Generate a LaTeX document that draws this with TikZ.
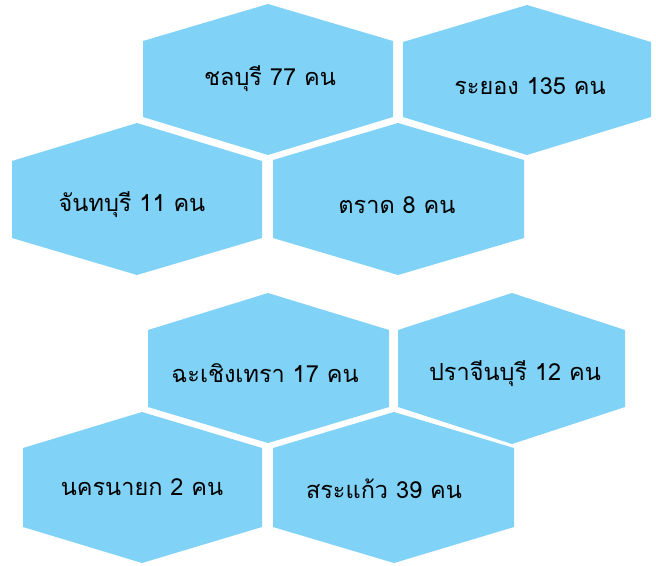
\documentclass[tikz,border=0pt]{standalone}
\usepackage{fontspec}
\newfontfamily\thaifont[Script=Thai]{Loma}
\definecolor{hexblue}{RGB}{128,210,247}
\tikzset{
  hexfill/.style={fill=hexblue},
  hexlabel/.style={font=\thaifont\fontsize{23.5}{28}\selectfont, text=black, anchor=base, inner sep=0pt}
}
% #1 L, #2 M, #3 R, #4 top, #5 upper, #6 lower, #7 bottom
\newcommand{\hexcell}[7]{%
  \fill[hexfill] (#2,#4) -- (#3,#5) -- (#3,#6) -- (#2,#7) -- (#1,#6) -- (#1,#5) -- cycle;}
\begin{document}
\begin{tikzpicture}[x=1pt,y=-1pt]
\useasboundingbox (0,0) rectangle (656,565);
\hexcell{143}{268}{393}{4}{41}{117}{155}
\hexcell{403}{527}{651}{5}{42}{117}{155}
\hexcell{12}{137}{262}{123}{161}{238}{275}
\hexcell{273}{398}{524}{123}{160}{238}{275}
\hexcell{148}{268}{389}{293}{330}{407}{443}
\hexcell{398}{512}{625}{293}{330}{407}{444}
\hexcell{23}{142}{262}{412}{448}{527}{563}
\hexcell{273}{394}{514}{412}{448}{527}{563}
\node[hexlabel] (chonburi) at (270,85) {ชลบุรี 77 คน};
\node[hexlabel] (rayong) at (530,94) {ระยอง 135 คน};
\node[hexlabel] (chanthaburi) at (132,211) {จันทบุรี 11 คน};
\node[hexlabel] (trat) at (397,213) {ตราด 8 คน};
\node[hexlabel] (chachoengsao) at (265,382) {ฉะเชิงเทรา 17 คน};
\node[hexlabel] (prachinburi) at (515,380) {ปราจีนบุรี 12 คน};
\node[hexlabel] (nakhonnayok) at (142,495) {นครนายก 2 คน};
\node[hexlabel] (sakaeo) at (384,498) {สระแก้ว 39 คน};
\end{tikzpicture}
\end{document}
